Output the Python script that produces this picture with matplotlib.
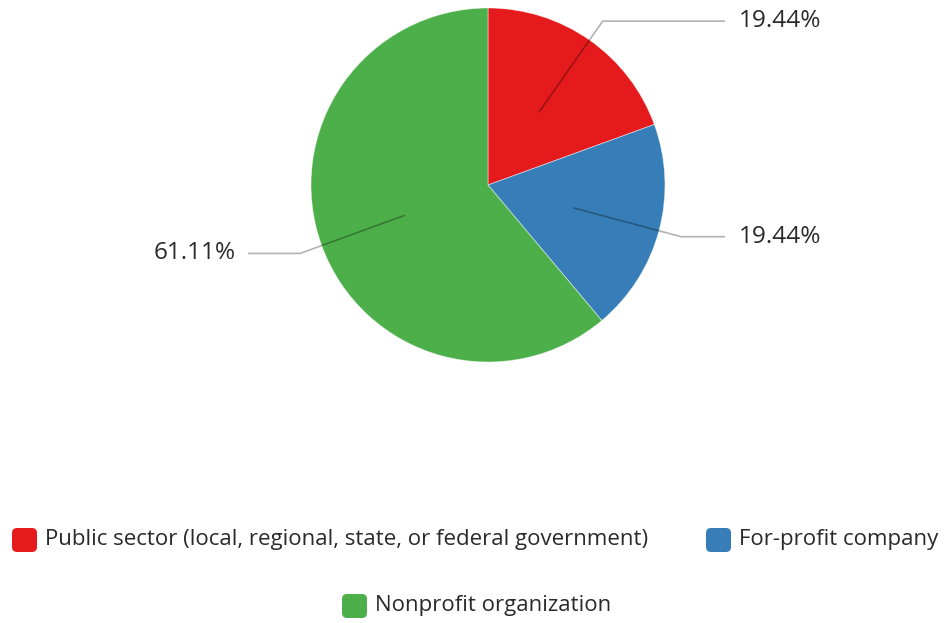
import matplotlib
matplotlib.use("Agg")
import matplotlib.pyplot as plt
from matplotlib.patches import FancyBboxPatch
import numpy as np

categories = [
    "Public sector (local, regional, state, or federal government)",
    "For-profit company",
    "Nonprofit organization",
]
values = [19.44, 19.44, 61.11]
colors = ["#e41a1c", "#377eb8", "#4daf4a"]

plt.rcParams["font.family"] = ["Open Sans", "DejaVu Sans"]

W, H = 944, 623
fig = plt.figure(figsize=(W / 100, H / 100), dpi=100)
ax = fig.add_axes([0, 0, 1, 1])

cx, cy, R = 488, H - 185, 177
wedges, _ = ax.pie(values, colors=colors, startangle=90, counterclock=False,
                   center=(cx, cy), radius=R, frame=True,
                   wedgeprops=dict(linewidth=0.6, edgecolor="#ffffff80"))
ax.set_xlim(0, W)
ax.set_ylim(0, H)
ax.set_aspect("equal")
ax.axis("off")

# leader lines and percentage labels
line_ends = [725, 725, 248]
for w, v, xe in zip(wedges, values, line_ends):
    mid = np.deg2rad((w.theta1 + w.theta2) / 2)
    p0 = (cx + 0.5 * R * np.cos(mid), cy + 0.5 * R * np.sin(mid))
    p1 = (cx + 1.13 * R * np.cos(mid), cy + 1.13 * R * np.sin(mid))
    ax.plot([p0[0], p1[0], xe], [p0[1], p1[1], p1[1]], color="black",
            alpha=0.3, lw=1.2, solid_capstyle="butt")
    if xe > cx:
        ax.text(xe + 14, p1[1], f"{v:.2f}%", ha="left", va="center",
                fontsize=17.6, color="#2a2a2a")
    else:
        ax.text(xe - 12, p1[1], f"{v:.2f}%", ha="right", va="center",
                fontsize=17.6, color="#2a2a2a")

# legend
legend_pos = [(12, 540), (706, 540), (342, 606)]
for lab, col, (x, y) in zip(categories, colors, legend_pos):
    yb = H - y
    ax.add_patch(FancyBboxPatch((x, yb - 12), 25, 24,
                                boxstyle="round,pad=0,rounding_size=5",
                                facecolor=col, edgecolor="none"))
    ax.text(x + 33, yb, lab, ha="left", va="center", fontsize=16.0,
            color="#2a2a2a")

fig.savefig("out.png", dpi=100)
